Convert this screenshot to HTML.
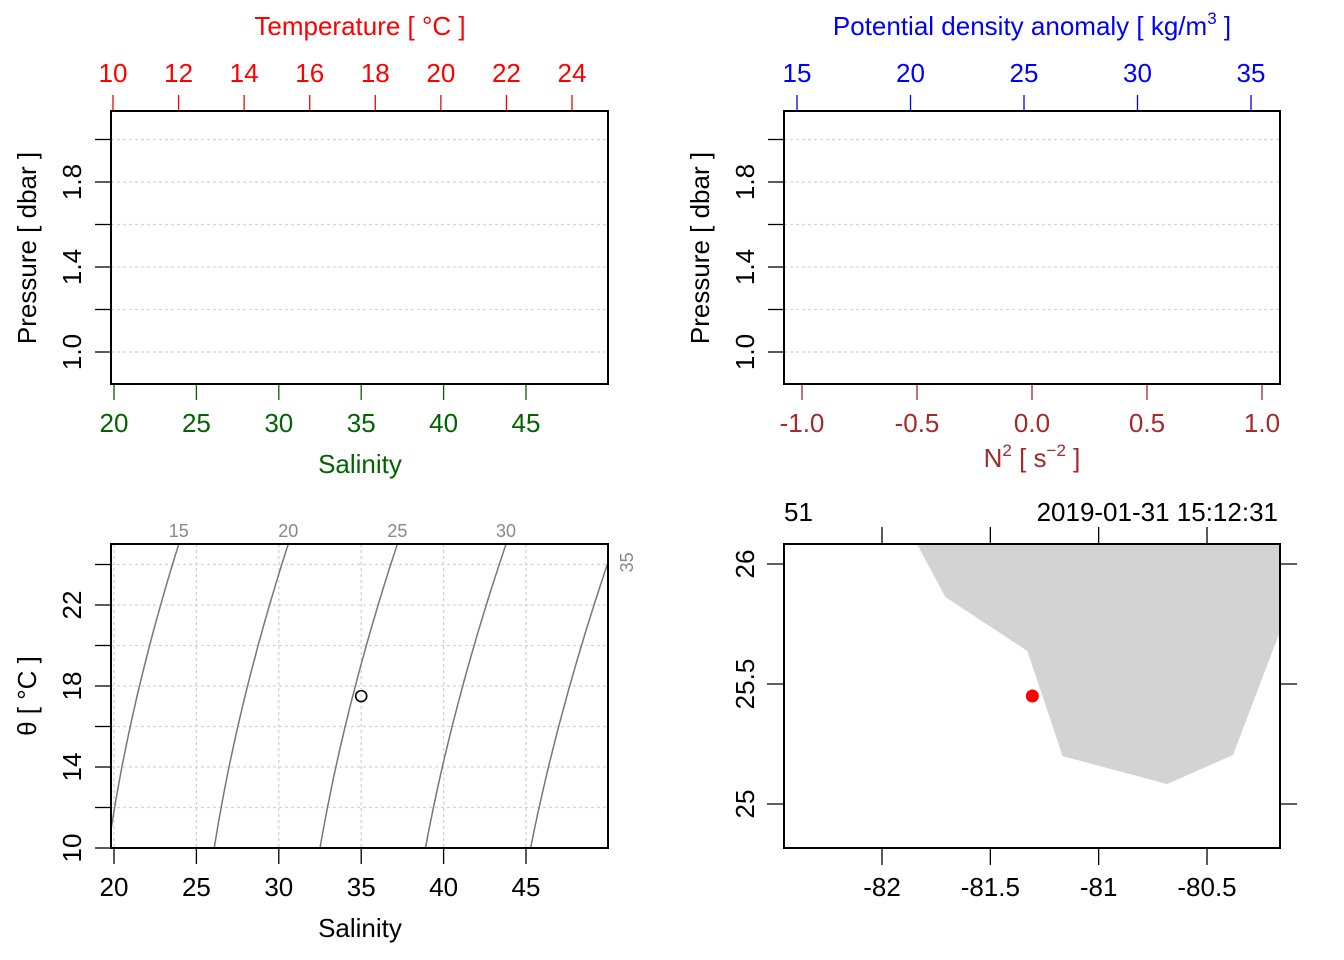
<!DOCTYPE html>
<html><head><meta charset="utf-8"><style>
html,body{margin:0;padding:0;background:#fff}
svg{display:block;font-family:"Liberation Sans",sans-serif}
</style></head><body>
<svg id="c" width="1344" height="960" viewBox="0 0 1344 960" xmlns="http://www.w3.org/2000/svg"></svg>
<script>
// ---- data ----
const tempTicks = [10,12,14,16,18,20,22,24];
const salTicks = [20,25,30,35,40,45];
const presTicks = [1.0,1.2,1.4,1.6,1.8,2.0];
const presLabels = [1.0,1.4,1.8];
const sigTicks = [15,20,25,30,35];
const n2Ticks = [-1.0,-0.5,0.0,0.5,1.0];
const tsThetaTicks = [10,12,14,16,18,20,22,24];
const tsThetaLabels = [10,14,18,22];
const isoLevels = [15,20,25,30,35];
const stationS = [35];
const stationT = [17.5];
const lonTicks = [-82,-81.5,-81,-80.5];
const latTicks = [25,25.5,26];
const coastLon = [-81.838,-81.708,-81.329,-81.167,-80.685,-80.380,-80.157,-80.157];
const coastLat = [26.083,25.8625,25.6375,25.2,25.083,25.204,25.733,26.083];
const stnLon = [-81.306];
const stnLat = [25.45];

const FS=26;
const NS='http://www.w3.org/2000/svg';
const svg=document.getElementById('c');
function el(tag,attrs,parent,name,inter){const e=document.createElementNS(NS,tag);for(const k in attrs)e.setAttribute(k,attrs[k]);


(parent||svg).appendChild(e);return e;}
function txt(x,y,s,size,fill,name,opts){opts=opts||{};const t=el('text',{x:x,y:y,'font-size':size,fill:fill,'text-anchor':opts.anchor||'middle'},opts.parent,name);
if(opts.rot!==undefined)t.setAttribute('transform','rotate('+opts.rot+' '+x+' '+y+')');t.textContent=s;return t;}
function lin(d0,d1,r0,r1){return v=>r0+(v-d0)*(r1-r0)/(d1-d0);}
const fmt1=v=>v.toFixed(1);

// ---------- Panel 1: profile T/S ----------
(function(){
 const L=111,R=608,T=111,B=384;
 const sx=lin(20,45,114,526), tx=lin(10,24,113,572), py=lin(1.0,1.8,352,182);
 presTicks.forEach(p=>el('line',{x1:L,x2:R,y1:py(p),y2:py(p),stroke:'#d3d3d3','stroke-dasharray':'3,3','stroke-width':1.3},null,'pressure-gridline'));
 presTicks.forEach(p=>el('line',{x1:L-16,x2:L,y1:py(p),y2:py(p),stroke:'#000','stroke-width':1.3},null,'pressure-tick'));
 presLabels.forEach(p=>txt(L-30,py(p),fmt1(p),FS,'#000','pressure-tick-label',{rot:-90}));
 tempTicks.forEach(t=>{el('line',{x1:tx(t),x2:tx(t),y1:T-16,y2:T,stroke:'#f00','stroke-width':1.3},null,'temperature-tick');txt(tx(t),82,t,FS,'#f00','temperature-tick-label');});
 salTicks.forEach(s=>{el('line',{x1:sx(s),x2:sx(s),y1:B,y2:B+16,stroke:'#006400','stroke-width':1.3},null,'salinity-tick');txt(sx(s),432,s,FS,'#006400','salinity-tick-label');});
 el('rect',{x:L,y:T,width:R-L,height:B-T,fill:'none',stroke:'#000','stroke-width':2},null,'profile-ts-box');
 txt(360,35,'Temperature [ °C ]',FS,'#f00','temperature-axis-title');
 txt(360,473,'Salinity',FS,'#006400','salinity-axis-title');
 txt(36,248,'Pressure [ dbar ]',FS,'#000','pressure-axis-title',{rot:-90});
})();

// ---------- Panel 2: density / N2 ----------
(function(){
 const L=784,R=1280,T=111,B=384;
 const dx=lin(15,35,797,1251), nx=lin(-1,1,802,1262), py=lin(1.0,1.8,352,182);
 presTicks.forEach(p=>el('line',{x1:L,x2:R,y1:py(p),y2:py(p),stroke:'#d3d3d3','stroke-dasharray':'3,3','stroke-width':1.3},null,'pressure-gridline'));
 presTicks.forEach(p=>el('line',{x1:L-16,x2:L,y1:py(p),y2:py(p),stroke:'#000','stroke-width':1.3},null,'pressure-tick'));
 presLabels.forEach(p=>txt(L-30,py(p),fmt1(p),FS,'#000','pressure-tick-label',{rot:-90}));
 sigTicks.forEach(s=>{el('line',{x1:dx(s),x2:dx(s),y1:T-16,y2:T,stroke:'#00f','stroke-width':1.3},null,'density-tick');txt(dx(s),82,s,FS,'#00f','density-tick-label');});
 n2Ticks.forEach(n=>{el('line',{x1:nx(n),x2:nx(n),y1:B,y2:B+16,stroke:'#a52a2a','stroke-width':1.3},null,'n2-tick');txt(nx(n),432,fmt1(n),FS,'#a52a2a','n2-tick-label');});
 el('rect',{x:L,y:T,width:R-L,height:B-T,fill:'none',stroke:'#000','stroke-width':2},null,'profile-density-box');
 const t1=el('text',{x:1032,y:35,'font-size':FS,fill:'#00f','text-anchor':'middle'},null,'density-axis-title');
 t1.innerHTML='Potential density anomaly [ kg/m<tspan dy="-11" font-size="17">3</tspan><tspan dy="11"> ]</tspan>';
 const t2=el('text',{x:1032,y:467,'font-size':FS,fill:'#a52a2a','text-anchor':'middle'},null,'n2-axis-title');
 t2.innerHTML='N<tspan dy="-11" font-size="17">2</tspan><tspan dy="11"> [ s</tspan><tspan dy="-11" font-size="17">−2</tspan><tspan dy="11"> ]</tspan>';
 txt(709,248,'Pressure [ dbar ]',FS,'#000','pressure-axis-title',{rot:-90});
})();

// ---------- Panel 3: TS diagram ----------
function sigma0(S,T){
 const rw=999.842594+6.793952e-2*T-9.095290e-3*T*T+1.001685e-4*T**3-1.120083e-6*T**4+6.536332e-9*T**5;
 const A=8.24493e-1-4.0899e-3*T+7.6438e-5*T*T-8.2467e-7*T**3+5.3875e-9*T**4;
 const Bc=-5.72466e-3+1.0227e-4*T-1.6546e-6*T*T;
 return rw+A*S+Bc*Math.pow(S,1.5)+4.8314e-4*S*S-1000;}
function solveS(sig,T){let a=0,b=80;for(let i=0;i<60;i++){const m=(a+b)/2;if(sigma0(m,T)<sig)a=m;else b=m;}return (a+b)/2;}
(function(){
 const L=111,R=608,T=544,B=848;
 const sx=lin(20,45,114,526), ty=lin(10,22,848,605);
 const sMax=20+(R-114)/((526-114)/25);
 const tMax=10+(B-T)/((848-605)/12);
 salTicks.forEach(s=>el('line',{x1:sx(s),x2:sx(s),y1:T,y2:B,stroke:'#d3d3d3','stroke-dasharray':'3,3','stroke-width':1.3},null,'salinity-gridline'));
 tsThetaTicks.forEach(t=>el('line',{x1:L,x2:R,y1:ty(t),y2:ty(t),stroke:'#d3d3d3','stroke-dasharray':'3,3','stroke-width':1.3},null,'theta-gridline'));
 const clip=el('clipPath',{id:'tsclip'},null,'ts-clip');
 el('rect',{x:L,y:T,width:R-L,height:B-T},clip,'ts-clip-rect');
 isoLevels.forEach(lv=>{
  let pts=[];for(let i=0;i<=60;i++){const t=10+(tMax+1-10)*i/60;pts.push([sx(solveS(lv,t)),ty(t)]);}
  el('path',{d:'M'+pts.map(p=>p[0].toFixed(1)+','+p[1].toFixed(1)).join('L'),fill:'none',stroke:'#777','stroke-width':1.5,'clip-path':'url(#tsclip)'},null,'isopycnal-'+lv);
  const sTop=solveS(lv,tMax);
  if(sTop<=sMax){txt(sx(sTop),537,lv,18,'#888','isopycnal-label');}
  else{
   let a=10,b=tMax;for(let i=0;i<50;i++){const m=(a+b)/2;if(solveS(lv,m)<sMax)a=m;else b=m;}
   txt(R+25,ty(a),lv,18,'#888','isopycnal-label',{rot:-90});}
 });
 stationS.forEach((s,i)=>el('circle',{cx:sx(s),cy:ty(stationT[i]),r:5.5,fill:'none',stroke:'#000','stroke-width':1.6},null,'station-ts-point'));
 tsThetaTicks.forEach(t=>el('line',{x1:L-16,x2:L,y1:ty(t),y2:ty(t),stroke:'#000','stroke-width':1.3},null,'theta-tick'));
 tsThetaLabels.forEach(t=>txt(L-30,ty(t),t,FS,'#000','theta-tick-label',{rot:-90}));
 salTicks.forEach(s=>{el('line',{x1:sx(s),x2:sx(s),y1:B,y2:B+16,stroke:'#000','stroke-width':1.3},null,'salinity-tick');txt(sx(s),896,s,FS,'#000','salinity-tick-label');});
 el('rect',{x:L,y:T,width:R-L,height:B-T,fill:'none',stroke:'#000','stroke-width':2},null,'ts-box');
 txt(360,937,'Salinity',FS,'#000','ts-salinity-axis-title');
 txt(36,696,'θ [ °C ]',FS,'#000','theta-axis-title',{rot:-90});
})();

// ---------- Panel 4: map ----------
(function(){
 const L=784,R=1280,T=544,B=848;
 const lx=lin(-82,-80.5,882,1207), ly=lin(26,25,564,804);
 const clip=el('clipPath',{id:'mapclip'},null,'map-clip');
 el('rect',{x:L,y:T,width:R-L,height:B-T},clip,'map-clip-rect');
 el('polygon',{points:coastLon.map((v,i)=>lx(v).toFixed(1)+','+ly(coastLat[i]).toFixed(1)).join(' '),fill:'#d3d3d3',stroke:'none','clip-path':'url(#mapclip)'},null,'land-polygon');
 stnLon.forEach((v,i)=>el('circle',{cx:lx(v),cy:ly(stnLat[i]),r:6.5,fill:'#f00'},null,'station-location',true));
 lonTicks.forEach(v=>{el('line',{x1:lx(v),x2:lx(v),y1:B,y2:B+17,stroke:'#000','stroke-width':1.3},null,'longitude-tick');
  el('line',{x1:lx(v),x2:lx(v),y1:T-17,y2:T,stroke:'#000','stroke-width':1.3},null,'longitude-top-tick');
  txt(lx(v),896,String(v),FS,'#000','longitude-tick-label');});
 latTicks.forEach(v=>{el('line',{x1:L-17,x2:L,y1:ly(v),y2:ly(v),stroke:'#000','stroke-width':1.3},null,'latitude-tick');
  el('line',{x1:R,x2:R+17,y1:ly(v),y2:ly(v),stroke:'#000','stroke-width':1.3},null,'latitude-right-tick');
  txt(L-30,ly(v),String(v),FS,'#000','latitude-tick-label',{rot:-90});});
 el('rect',{x:L,y:T,width:R-L,height:B-T,fill:'none',stroke:'#000','stroke-width':2},null,'map-box');
 txt(784,521,'51',FS,'#000','station-id',{anchor:'start'});
 txt(1278,521,'2019-01-31 15:12:31',FS,'#000','station-time',{anchor:'end'});
})();
</script>
</body></html>
